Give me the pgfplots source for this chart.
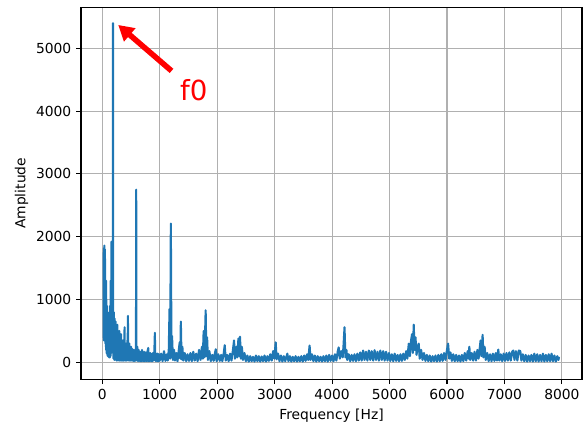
\documentclass[border=0pt]{standalone}
\usepackage{fontspec}
\setmainfont{DejaVu Sans}
\usepackage{pgfplots}
\pgfplotsset{compat=1.18}
\usetikzlibrary{arrows.meta}
\definecolor{mplblue}{RGB}{31,119,180}
\definecolor{mplgrid}{RGB}{176,176,176}
\begin{document}
\begin{tikzpicture}
\begin{axis}[
  name=ax,
  scale only axis,
  width=360.7bp, height=267.8bp,
  xmin=-370, xmax=8350, ymin=-269, ymax=5650,
  xtick={0,1000,2000,3000,4000,5000,6000,7000,8000},
  ytick={0,1000,2000,3000,4000,5000},
  /pgf/number format/assume math mode=true,
  /pgf/number format/1000 sep={},
  grid=major,
  grid style={color=mplgrid, line width=0.8pt},
  axis line style={line width=0.8pt},
  tick align=outside, tick pos=left,
  major tick length=3.5pt,
  tick style={black, line width=0.8pt},
  ticklabel style={font=\fontsize{10}{12}\selectfont},
  label style={font=\fontsize{10}{12}\selectfont},
  xlabel={Frequency [Hz]}, ylabel={Amplitude},
  xlabel style={at={(axis description cs:0.5,-0.0987)}, anchor=center},
  ylabel style={at={(axis description cs:-0.1184,0.5)}, anchor=center},
]
\addplot[mplblue, line width=1.5pt, line join=round] table {
x y
25 1750
27 350
29 1820
31 500
33 1700
35 400
37 1860
39 600
41 1500
43 380
45 1800
47 450
49 1650
51 350
53 1300
55 300
57 1200
59 400
61 1000
63 250
65 1300
67 200
69 900
71 300
73 1000
75 150
77 800
79 200
81 900
84 150
87 700
90 120
93 800
96 100
99 650
102 150
105 700
108 90
111 600
114 120
117 500
120 80
123 750
126 100
129 600
132 80
135 900
138 120
141 500
144 100
147 1300
150 200
153 700
156 150
159 1920
162 200
165 1400
168 300
171 900
174 250
177 600
180 300
183 500
185 200
187 5400
189 150
192 700
196 60
200 800
204 80
208 550
212 40
216 700
220 60
224 450
228 50
232 650
236 40
240 400
244 60
248 500
252 30
256 350
260 50
264 600
268 40
272 400
276 30
280 450
284 50
288 300
292 40
296 500
300 30
304 350
308 50
312 400
316 30
320 300
324 40
328 450
332 30
336 300
340 50
344 350
348 30
352 280
356 40
360 350
364 30
368 250
372 40
376 300
380 30
384 350
389 560
393 40
397 300
401 30
405 250
409 40
413 300
417 30
421 220
425 40
429 280
433 30
437 350
441 50
447 740
451 40
455 300
459 30
463 250
467 40
471 300
475 30
479 200
483 40
487 250
491 30
495 200
499 40
503 250
507 30
511 180
515 40
519 220
523 30
527 170
531 40
535 200
539 25
543 160
547 30
551 200
555 25
559 150
563 30
567 170
571 25
575 140
579 30
583 180
587 60
591 2750
595 40
599 200
603 30
609 250
615 25
621 180
627 30
633 200
639 20
645 150
651 30
657 170
663 20
669 140
675 30
681 160
687 20
693 200
699 30
705 150
711 20
717 130
723 30
729 170
735 20
741 140
747 30
753 160
759 20
765 130
771 30
777 150
783 20
789 200
795 30
800 230
806 20
812 140
818 30
824 120
830 20
836 150
842 30
848 110
854 20
860 130
866 25
872 100
878 20
884 150
890 30
896 120
902 40
908 200
916 470
922 30
928 150
934 20
940 120
946 30
952 110
958 20
964 140
970 25
976 120
982 20
988 130
994 25
1000 30
1025 140
1050 20
1075 180
1100 25
1125 130
1140 30
1158 200
1171 850
1182 60
1194 2210
1205 80
1215 420
1230 40
1250 200
1265 30
1290 150
1310 20
1330 180
1348 320
1358 60
1368 650
1380 50
1395 250
1410 30
1435 150
1460 20
1485 130
1510 25
1535 150
1560 20
1585 170
1610 30
1635 140
1660 20
1685 200
1710 40
1735 250
1750 60
1765 500
1780 80
1800 830
1812 100
1825 400
1840 40
1865 180
1890 20
1915 120
1940 25
1960 140
1976 210
1990 20
2020 130
2045 25
2070 120
2090 20
2115 150
2132 275
2150 30
2175 120
2200 20
2225 140
2250 30
2275 200
2294 350
2310 60
2335 250
2350 80
2370 380
2385 100
2398 410
2412 60
2430 250
2450 40
2475 150
2500 20
2525 110
2550 15
2575 100
2600 20
2625 90
2650 15
2675 110
2700 20
2725 100
2750 15
2775 95
2800 20
2825 110
2850 15
2875 100
2900 25
2925 130
2950 30
2975 180
2995 60
3019 320
3035 50
3060 140
3085 20
3110 110
3135 15
3160 100
3185 20
3205 90
3222 140
3240 20
3265 100
3290 15
3315 90
3340 20
3365 100
3390 15
3415 90
3440 20
3465 100
3490 15
3515 110
3540 25
3565 130
3585 40
3609 270
3625 40
3650 130
3675 20
3700 110
3725 15
3750 100
3775 20
3800 90
3825 15
3850 100
3875 20
3900 110
3925 15
3950 120
3975 25
4000 110
4025 20
4050 130
4075 30
4100 180
4115 240
4135 60
4160 180
4185 80
4200 280
4217 560
4232 80
4250 200
4265 40
4290 130
4315 20
4340 120
4365 25
4390 130
4415 20
4440 140
4465 30
4490 160
4515 30
4540 190
4565 40
4590 170
4615 30
4640 190
4665 40
4690 180
4715 30
4740 195
4765 40
4790 170
4815 30
4840 190
4865 40
4890 180
4915 30
4940 170
4965 30
4990 150
5015 25
5040 130
5065 20
5090 140
5115 25
5140 120
5165 20
5190 130
5215 25
5240 140
5265 40
5290 180
5310 60
5335 300
5355 100
5375 350
5392 450
5407 150
5421 600
5436 200
5452 400
5470 120
5490 250
5508 300
5525 60
5550 200
5575 40
5600 150
5625 25
5650 120
5675 20
5700 110
5725 15
5750 100
5775 20
5800 110
5825 15
5850 120
5875 20
5900 130
5925 25
5950 150
5975 40
6000 200
6019 300
6040 60
6060 160
6085 25
6110 130
6135 20
6160 120
6185 20
6210 110
6235 15
6260 120
6285 20
6310 150
6335 30
6360 180
6375 60
6389 250
6405 40
6430 150
6455 30
6480 170
6505 30
6530 200
6550 60
6585 350
6600 100
6620 440
6635 80
6655 250
6675 40
6700 150
6725 20
6750 130
6775 20
6800 140
6825 25
6850 150
6870 30
6893 205
6910 30
6935 130
6960 20
6985 140
7010 25
7035 150
7060 30
7085 160
7110 30
7135 170
7154 190
7175 40
7200 180
7225 30
7250 190
7276 180
7295 30
7320 130
7345 20
7370 120
7395 15
7420 110
7445 20
7470 120
7495 15
7520 140
7545 20
7570 130
7595 15
7620 120
7645 20
7670 140
7695 15
7720 120
7745 20
7770 130
7795 20
7820 140
7845 20
7870 110
7895 15
7920 100
7940 40
7950 90
};
\draw[red, line width=4bp, -{Triangle[width=12bp,length=11bp]}] (axis cs:1206,4639) -- (axis cs:278,5370);
\node[red, anchor=base west, inner sep=0pt, font=\fontsize{20}{24}\selectfont] at (axis cs:1350,4167) {f0};
\end{axis}
\pgfresetboundingbox
\path ([xshift=-58.3bp,yshift=-32.9bp]ax.south west) rectangle ([xshift=0.72bp,yshift=5.3bp]ax.north east);
\end{tikzpicture}
\end{document}
